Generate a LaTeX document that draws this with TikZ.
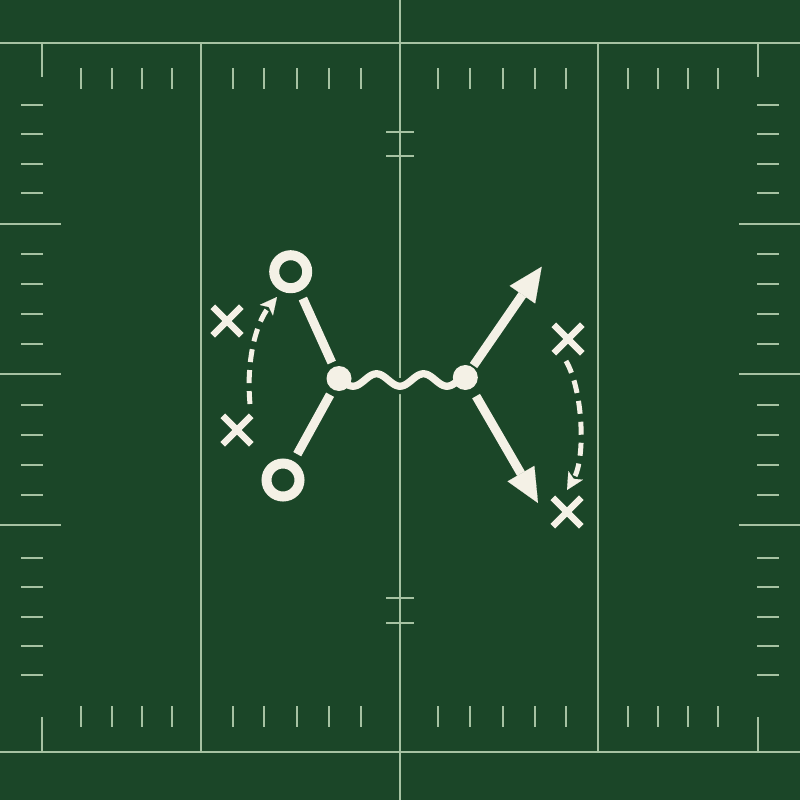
\documentclass[tikz,border=0pt]{standalone}
\usetikzlibrary{arrows.meta,shapes.misc}
\definecolor{turf}{HTML}{1B4628}
\definecolor{chalk}{HTML}{A6C2A2}
\definecolor{cream}{HTML}{F4F1E6}
\begin{document}
\begin{tikzpicture}[x=1pt,y=-1pt,
  fieldline/.style={chalk,line width=2.7pt},
  tickmark/.style={chalk,line width=2.4pt},
  ring/.style={circle,draw=cream,line width=10pt,minimum size=33pt,inner sep=0pt},
  dotnode/.style={circle,fill=cream,minimum size=25pt,inner sep=0pt,outer sep=0pt},
  xmark/.style={cross out,draw=cream,line width=6.5pt,minimum size=22pt,inner sep=0pt},
  link/.style={cream,line width=9pt},
  route/.style={cream,line width=9pt,-{Triangle[length=34pt,width=31pt,line width=0.1pt]}},
  motion/.style={cream,line width=5pt,dash pattern=on 13pt off 8pt,-{Stealth[length=17pt,width=17pt,inset=4pt,line width=0.1pt]}},
]
\fill[turf] (0,0) rectangle (800,800);
\useasboundingbox (0,0) rectangle (800,800);

% field lines
\draw[fieldline] (0,43) -- (800,43);
\draw[fieldline] (0,752) -- (800,752);
\draw[fieldline] (400,0) -- (400,800);
\draw[fieldline] (201,43) -- (201,752);
\draw[fieldline] (598,43) -- (598,752);
\draw[fieldline] (42,43) -- (42,77);
\draw[fieldline] (42,717) -- (42,752);
\draw[fieldline] (758,43) -- (758,77);
\draw[fieldline] (758,717) -- (758,752);

% ticks
\foreach \x in {81,112,142,172,233,264,297,329,361,438,470,503,535,566,628,658,688,718} {
  \draw[tickmark] (\x,68) -- (\x,89);
  \draw[tickmark] (\x,706) -- (\x,727);
}
\foreach \y in {105,134,164,193,254,284,314,344,405,435,465,495,558,587,617,646,675} {
  \draw[tickmark] (21,\y) -- (43,\y);
  \draw[tickmark] (757,\y) -- (779,\y);
}
\foreach \y in {224,374,525} {
  \draw[tickmark] (0,\y) -- (61,\y);
  \draw[tickmark] (739,\y) -- (800,\y);
}
\foreach \y in {132,156,598,623} {
  \draw[tickmark] (386,\y) -- (414,\y);
}

% wave (snap) between the two dots
\draw[turf,line width=16pt] plot[domain=352:452,samples=90] (\x,{380+6.2*cos(7.66*(\x-400))});
\draw[cream,line width=7.3pt] plot[domain=340:462,samples=100] (\x,{380+6.2*cos(7.66*(\x-400))});

% players
\node[ring] (o1) at (290.7,271.7) {};
\node[ring] (o2) at (283,480) {};
\node[dotnode] (d1) at (339,378.5) {};
\node[dotnode] (d2) at (465.3,377.5) {};
\node[xmark] (x1) at (227,321) {};
\node[xmark] (x2) at (237,430) {};
\node[xmark] (x3) at (568,339) {};
\node[xmark] (x4) at (567,512) {};

\coordinate (t1) at (541.7,266.7);
\coordinate (t2) at (538,503);
\coordinate (ls) at (250,404);
\coordinate (le) at (277,297);
\coordinate (rs) at (566,361);
\coordinate (re) at (567,490);

% connectors
\draw[link,shorten <=8pt,shorten >=5pt] (o1) -- (d1);
\draw[link,shorten <=6pt,shorten >=8pt] (d1) -- (o2);
\draw[route,shorten <=2pt] (d2) -- (t1);
\draw[route,shorten <=9pt] (d2) -- (t2);
\draw[motion] (ls) .. controls (246,360) and (256,323) .. (le);
\draw[motion] (rs) .. controls (583,390) and (586,458) .. (re);
\end{tikzpicture}
\end{document}
